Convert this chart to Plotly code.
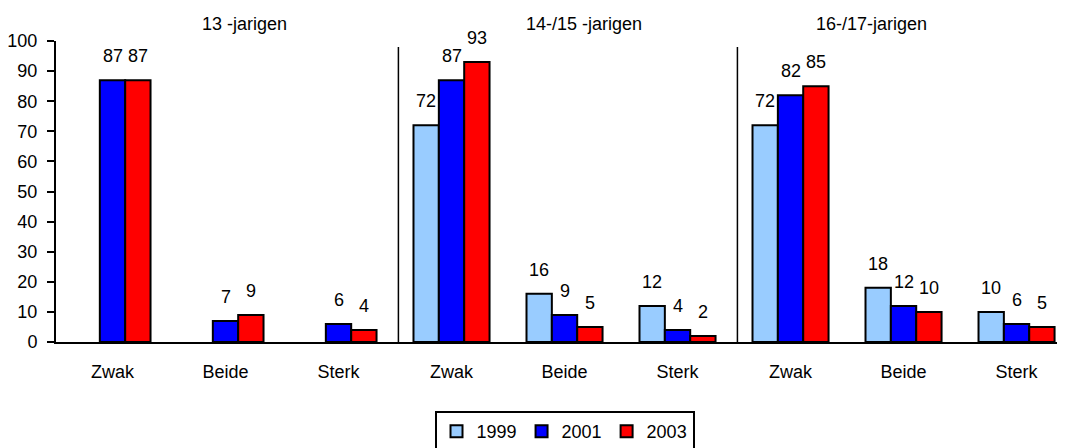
import plotly.graph_objects as go

# ---- data ----
categories = ["Zwak", "Beide", "Sterk", "Zwak", "Beide", "Sterk", "Zwak", "Beide", "Sterk"]
group_titles = ["13 -jarigen", "14-/15 -jarigen", "16-/17-jarigen"]
years = ["1999", "2001", "2003"]
v1999 = [None, None, None, 72, 16, 12, 72, 18, 10]
v2001 = [87, 7, 6, 87, 9, 4, 82, 12, 6]
v2003 = [87, 9, 4, 93, 5, 2, 85, 10, 5]

series = [v1999, v2001, v2003]
colors = ["#99CCFF", "#0000FF", "#FF0000"]
FONT = "Liberation Sans Narrow, Arial Narrow, Liberation Sans, Arial, sans-serif"
FS = 18
BARGAP = 0.327
bw = (1 - BARGAP) / 3

xs = list(range(len(categories)))
fig = go.Figure()
for name, vals, col in zip(years, series, colors):
    fig.add_trace(go.Bar(
        x=xs, y=vals, name=name,
        marker=dict(color=col, line=dict(color="black", width=2)),
    ))

annotations = []
for j, vals in enumerate(series):
    for i, v in enumerate(vals):
        if v is None:
            continue
        annotations.append(dict(
            x=i + (j - 1) * bw, y=v, xref="x", yref="y",
            text=str(v), showarrow=False, yanchor="middle", yshift=24,
            font=dict(family=FONT, size=FS, color="black"),
        ))

title_x = [1.17, 4.17, 6.72]
for t, tx in zip(group_titles, title_x):
    annotations.append(dict(
        x=tx, y=1.056, xref="x", yref="paper", text=t, showarrow=False,
        yanchor="middle", font=dict(family=FONT, size=FS, color="black"),
    ))

shapes = []
for sx in [2.53, 5.53]:
    shapes.append(dict(type="line", xref="x", yref="y", x0=sx, x1=sx, y0=0, y1=98,
                       line=dict(color="black", width=1.5)))

# the page body has an 8px margin, so the figure is offset by 8px
fig.update_layout(
    width=1065, height=448,
    margin=dict(l=48, r=16, t=33, b=114, autoexpand=False),
    paper_bgcolor="white", plot_bgcolor="white",
    barmode="group", bargap=BARGAP, bargroupgap=0,
    font=dict(family=FONT, size=FS, color="black"),
    annotations=annotations, shapes=shapes,
    showlegend=True,
    legend=dict(
        orientation="h", x=0.508, xanchor="center",
        yref="container", y=0.1005, yanchor="top",
        bordercolor="black", borderwidth=2, bgcolor="white",
        font=dict(family=FONT, size=FS, color="black"),
        itemwidth=30, tracegroupgap=0,
    ),
)
fig.update_xaxes(
    range=[-0.5, 8.358], tickmode="array", tickvals=xs, ticktext=categories,
    showline=True, linecolor="black", linewidth=2,
    ticks="outside", ticklen=12, tickcolor="rgba(0,0,0,0)",
    showgrid=False, zeroline=False, fixedrange=True, automargin=False,
)
fig.update_yaxes(
    range=[0, 100], tickmode="linear", tick0=0, dtick=10,
    showline=True, linecolor="black", linewidth=2,
    ticks="outside", ticklen=7, tickwidth=2, tickcolor="black",
    ticklabelstandoff=6,
    showgrid=False, zeroline=False, fixedrange=True, automargin=False,
)

fig.write_html("out.html")
